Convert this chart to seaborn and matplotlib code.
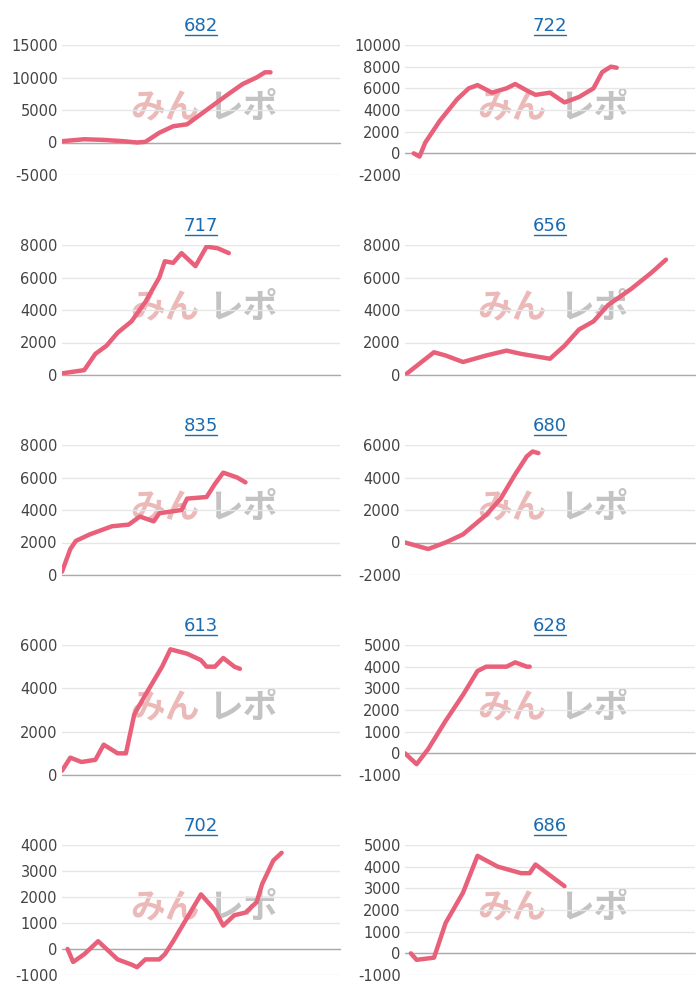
import matplotlib
matplotlib.use("Agg")
import matplotlib.pyplot as plt
from matplotlib.lines import Line2D
import seaborn as sns
import pandas as pd

sns.set_theme(style="white")
plt.rcParams['font.family'] = ['DejaVu Sans', 'Noto Sans CJK JP']
plt.rcParams['axes.unicode_minus'] = False

titles = ["682", "722", "717", "656", "835", "680", "613", "628", "702", "686"]
xs = [
    [0, 8, 15, 22, 27, 30, 35, 40, 45, 52, 60, 65, 70, 73, 75],
    [3, 5, 7, 12, 18, 22, 25, 30, 35, 38, 42, 45, 50, 55, 60, 65, 68, 71, 73],
    [0, 8, 12, 16, 20, 25, 30, 35, 37, 40, 43, 48, 52, 56, 60],
    [0, 5, 10, 14, 20, 28, 35, 40, 50, 55, 60, 65, 70, 78, 85, 90],
    [0, 3, 5, 10, 18, 24, 28, 33, 35, 43, 45, 52, 55, 58, 63, 66],
    [0, 8, 14, 20, 28, 33, 38, 42, 44, 46],
    [0, 3, 7, 12, 15, 20, 23, 26, 30, 36, 39, 45, 50, 52, 55, 58, 62, 64],
    [0, 4, 8, 14, 20, 25, 28, 35, 38, 42, 43],
    [2, 4, 8, 13, 17, 20, 25, 27, 30, 35, 37, 40, 45, 50, 55, 58, 62, 66, 70, 72, 76, 79],
    [2, 4, 10, 14, 20, 25, 32, 40, 43, 45, 50, 55],
]
ys = [
    [200, 500, 400, 200, 0, 100, 1500, 2500, 2800, 5000, 7500, 9000, 10000, 10800, 10800],
    [0, -300, 1000, 3000, 5000, 6000, 6300, 5600, 6000, 6400, 5800, 5400, 5600, 4700, 5200, 6000, 7500, 8000, 7900],
    [100, 300, 1300, 1800, 2600, 3300, 4500, 6000, 7000, 6900, 7500, 6700, 7900, 7800, 7500],
    [0, 700, 1400, 1200, 800, 1200, 1500, 1300, 1000, 1800, 2800, 3300, 4300, 5300, 6300, 7100],
    [200, 1600, 2100, 2500, 3000, 3100, 3600, 3300, 3800, 4000, 4700, 4800, 5600, 6300, 6000, 5700],
    [0, -400, 0, 500, 1700, 2700, 4200, 5300, 5600, 5500],
    [200, 800, 600, 700, 1400, 1000, 1000, 2800, 3700, 5000, 5800, 5600, 5300, 5000, 5000, 5400, 5000, 4900],
    [0, -500, 200, 1500, 2700, 3800, 4000, 4000, 4200, 4000, 4000],
    [0, -500, -200, 300, -100, -400, -600, -700, -400, -400, -200, 300, 1200, 2100, 1500, 900, 1300, 1400, 1800, 2500, 3400, 3700],
    [0, -300, -200, 1400, 2800, 4500, 4000, 3700, 3700, 4100, 3600, 3100],
]
ylims = [(-5000, 15000, 5000), (-2000, 10000, 2000), (0, 8000, 2000), (0, 8000, 2000),
         (0, 8000, 2000), (-2000, 6000, 2000), (0, 6000, 2000), (-1000, 5000, 1000),
         (-1000, 4000, 1000), (-1000, 5000, 1000)]

W, H = 700, 1000
fig = plt.figure(figsize=(7, 10), dpi=100)
cols = [(62, 340), (405, 695)]
rows = [45, 245, 445, 645, 845]
for i in range(10):
    r, c = divmod(i, 2)
    x0, x1 = cols[c]
    top = rows[r]
    aw = x1 - x0
    ax = fig.add_axes([x0 / W, 1 - (top + 130) / H, aw / W, 130 / H])
    df = pd.DataFrame({"x": xs[i], "y": ys[i]})
    sns.lineplot(data=df, x="x", y="y", ax=ax, color="#e9607a", linewidth=3.2)
    lo, hi, st = ylims[i]
    ax.set_ylim(lo, hi)
    ax.set_xlim(0, 100)
    ax.set_yticks(range(lo, hi + 1, st))
    ax.set_xticks([])
    ax.set_xlabel(""); ax.set_ylabel("")
    ax.grid(axis="y", color="#e6e6e6", linewidth=1)
    ax.axhline(0, color="#aaaaaa", linewidth=1, zorder=1, clip_on=False)
    for s in ["top", "right", "left", "bottom"]:
        ax.spines[s].set_visible(False)
    ax.tick_params(axis="y", labelsize=10.5, colors="#444444", length=0, pad=3)
    ax.set_title(titles[i], color="#1a6bb0", fontsize=13, pad=10)
    hw = 16 / aw
    ax.add_line(Line2D([0.5 - hw, 0.5 + hw], [1.075, 1.075], transform=ax.transAxes,
                       color="#1a6bb0", linewidth=1, clip_on=False))
    ax.text(0.37, 0.52, "みん", transform=ax.transAxes, fontsize=25, color="#e8a8a8",
            alpha=0.8, ha="center", va="center", fontweight="bold", style="italic",
            family="Noto Sans CJK JP", zorder=0)
    ax.text(0.65, 0.52, "レポ", transform=ax.transAxes, fontsize=25, color="#b5b5b5",
            alpha=0.8, ha="center", va="center", fontweight="bold", style="italic",
            family="Noto Sans CJK JP", zorder=0)

fig.savefig("out.png", dpi=100, facecolor="white")
